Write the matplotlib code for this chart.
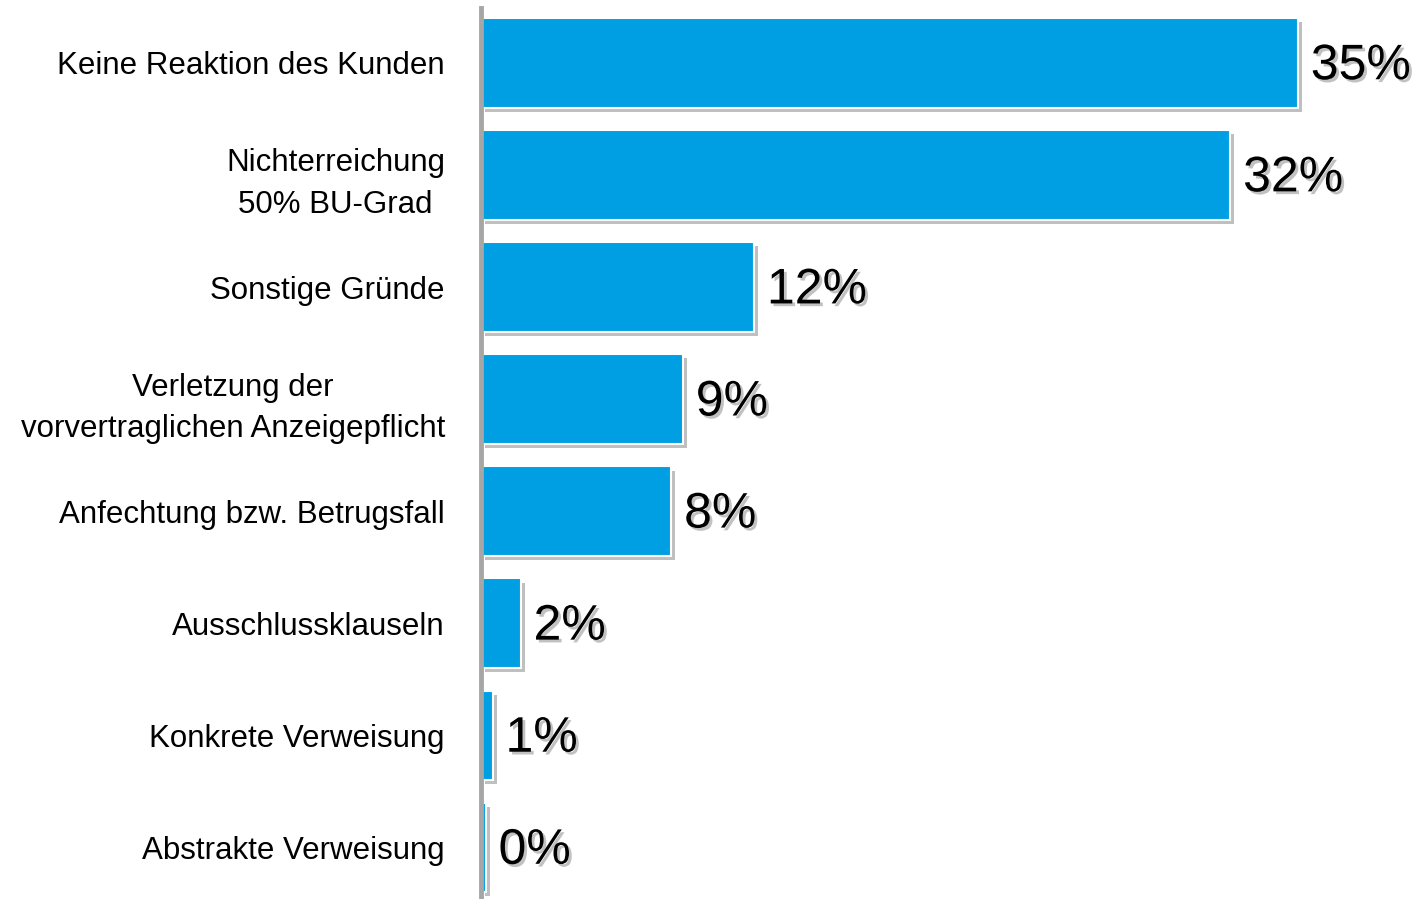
import matplotlib.pyplot as plt
import matplotlib.patheffects as pe

# Gründe (von oben nach unten)
kategorien = [
    "Keine Reaktion des Kunden",
    "Nichterreichung\n50% BU-Grad",
    "Sonstige Gründe",
    "Verletzung der\nvorvertraglichen Anzeigepflicht",
    "Anfechtung bzw. Betrugsfall",
    "Ausschlussklauseln",
    "Konkrete Verweisung",
    "Abstrakte Verweisung",
]
werte = [35.0, 32.1, 11.7, 8.65, 8.15, 1.7, 0.5, 0.2]
beschriftung = ["35%", "32%", "12%", "9%", "8%", "2%", "1%", "0%"]

plt.rcParams['font.family'] = ['Liberation Sans', 'DejaVu Sans']

fig = plt.figure(figsize=(14.17, 8.99), dpi=100)
ax = fig.add_axes([481 / 1417, 0, 936 / 1417, 891 / 899])

pos = list(range(len(kategorien)))
schatten = [pe.SimplePatchShadow(offset=(3, -3), shadow_rgbFace='#808080', alpha=0.5), pe.Normal()]
bars = ax.barh(pos, werte, height=0.8, color='#009FE3', edgecolor='white', linewidth=1.5)
for b in bars:
    b.set_path_effects(schatten)

text_schatten = [pe.withSimplePatchShadow(offset=(2, -2), shadow_rgbFace='#999999', alpha=0.6)]
for p, w, t in zip(pos, werte, beschriftung):
    ax.text(w + 0.55, p + 0.03, t, va='center', ha='left', fontsize=36,
            color='black', path_effects=text_schatten)

ax.set_xlim(0, 40.1)
ax.set_ylim(7.46, -0.49)
ax.set_yticks(pos)
ax.set_yticklabels(kategorien, fontsize=22.5, multialignment='center', linespacing=1.5)
ax.tick_params(axis='y', length=0, pad=26)
ax.set_xticks([])

for s in ['top', 'right', 'bottom']:
    ax.spines[s].set_visible(False)
ax.spines['left'].set_color('#A6A6A6')
ax.spines['left'].set_linewidth(3.5)

fig.savefig('out.png', dpi=100)
